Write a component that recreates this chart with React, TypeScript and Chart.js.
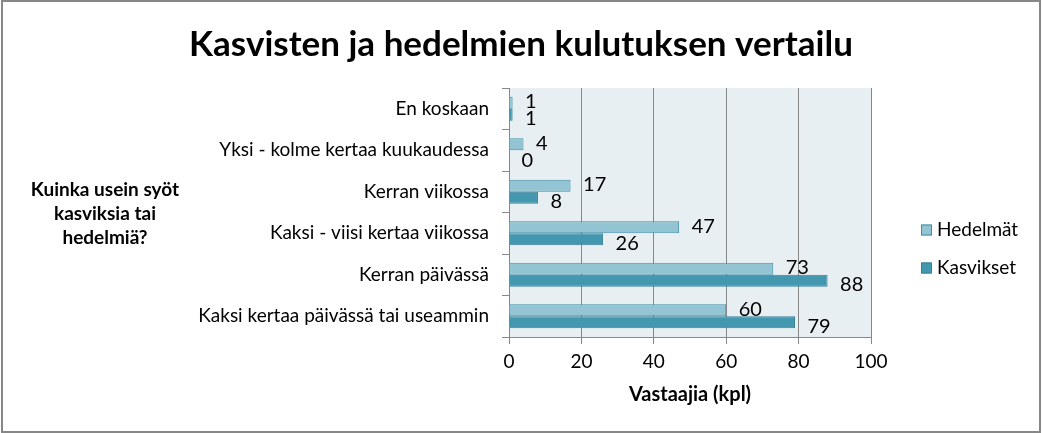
import React, { useEffect, useRef } from 'react';
import { Chart, registerables } from 'chart.js';

Chart.register(...registerables);

const categories = [
  'En koskaan',
  'Yksi - kolme kertaa kuukaudessa',
  'Kerran viikossa',
  'Kaksi - viisi kertaa viikossa',
  'Kerran päivässä',
  'Kaksi kertaa päivässä tai useammin',
];
const hedelmat = [1, 4, 17, 47, 73, 60];
const kasvikset = [1, 0, 8, 26, 88, 79];
const seriesNames = ['Hedelmät', 'Kasvikset'];
const xMin = 0;
const xMax = 100;
const xStep = 20;
const chartTitle = 'Kasvisten ja hedelmien kulutuksen vertailu';
const yTitleLines = ['Kuinka usein syöt', 'kasviksia tai', 'hedelmiä?'];
const xTitle = 'Vastaajia (kpl)';

const FONT = 'Lato, "Open Sans", sans-serif';
const fills = ['#93C4D4', '#4398AF'];
const borders = ['#3E8FA5', '#357F93'];
const GRID = '#878787';

const decorPlugin = {
  id: 'decor',
  beforeDraw(chart: any) {
    const { ctx, chartArea: a, width, height } = chart;
    ctx.save();
    ctx.fillStyle = '#ffffff';
    ctx.fillRect(0, 0, width, height);
    ctx.fillStyle = '#E8EFF3';
    ctx.fillRect(a.left, a.top, a.right - a.left, a.bottom - a.top);
    ctx.restore();
  },
  afterDatasetsDraw(chart: any) {
    const { ctx } = chart;
    ctx.save();
    ctx.font = `20px ${FONT}`;
    ctx.fillStyle = '#000000';
    ctx.textAlign = 'left';
    ctx.textBaseline = 'middle';
    chart.data.datasets.forEach((ds: any, di: number) => {
      const meta = chart.getDatasetMeta(di);
      meta.data.forEach((el: any, i: number) => {
        const dy = di === 0 ? -1 : 4;
        ctx.fillText(String(ds.data[i]), el.x + 12.5, el.y + dy);
      });
    });
    ctx.restore();
  },
  afterDraw(chart: any) {
    const { ctx, chartArea: a, width } = chart;
    ctx.save();
    ctx.fillStyle = '#000000';
    ctx.textAlign = 'center';
    ctx.textBaseline = 'middle';
    ctx.font = `bold 35px ${FONT}`;
    ctx.fillText(chartTitle, width / 2, 45);
    ctx.font = `bold 19px ${FONT}`;
    yTitleLines.forEach((line, i) => {
      ctx.fillText(line, 105, 190 + i * 24);
    });
    ctx.font = `bold 20px ${FONT}`;
    ctx.fillText(xTitle, (a.left + a.right) / 2, 395);
    ctx.textAlign = 'left';
    ctx.font = `19px ${FONT}`;
    seriesNames.forEach((name, i) => {
      const cy = 230 + i * 38;
      ctx.fillStyle = fills[i];
      ctx.fillRect(921, cy - 5.5, 10, 11);
      ctx.strokeStyle = borders[i];
      ctx.lineWidth = 1;
      ctx.strokeRect(921.5, cy - 5, 10, 10);
      ctx.fillStyle = '#000000';
      ctx.fillText(name, 937, cy);
    });
    ctx.strokeStyle = '#878787';
    ctx.lineWidth = 2;
    ctx.strokeRect(2, 1, 1038, 431);
    ctx.restore();
  },
};

export default function App() {
  const ref = useRef<HTMLCanvasElement | null>(null);
  useEffect(() => {
    document.body.style.margin = '0';
    document.body.style.overflow = 'hidden';
    const chart = new Chart(ref.current as HTMLCanvasElement, {
      type: 'bar',
      data: {
        labels: categories,
        datasets: [
          {
            label: seriesNames[0],
            data: hedelmat,
            backgroundColor: fills[0],
            borderColor: borders[0],
            borderWidth: 1,
            categoryPercentage: 0.58,
            barPercentage: 1,
          },
          {
            label: seriesNames[1],
            data: kasvikset,
            backgroundColor: fills[1],
            borderColor: borders[1],
            borderWidth: 1,
            categoryPercentage: 0.58,
            barPercentage: 1,
          },
        ],
      },
      options: {
        indexAxis: 'y',
        animation: false,
        responsive: true,
        maintainAspectRatio: false,
        layout: { padding: { top: 88, right: 171, bottom: 0, left: 0 } },
        plugins: {
          legend: { display: false },
          title: { display: false },
          tooltip: { enabled: false },
        },
        scales: {
          x: {
            type: 'linear',
            min: xMin,
            max: xMax,
            ticks: {
              stepSize: xStep,
              color: '#000000',
              font: { family: FONT, size: 19 },
              padding: 6,
            },
            grid: { color: GRID, tickLength: 7, drawTicks: true },
            border: { display: true, color: GRID },
            afterFit(scale: any) {
              scale.height = 96;
            },
          },
          y: {
            type: 'category',
            offset: true,
            ticks: {
              color: '#000000',
              font: { family: FONT, size: 19 },
              padding: 13,
              autoSkip: false,
            },
            grid: {
              offset: true,
              drawOnChartArea: false,
              drawTicks: true,
              tickLength: 7,
              color: GRID,
            },
            border: { display: true, color: GRID },
            afterFit(scale: any) {
              scale.width = 509;
            },
          },
        },
      } as any,
      plugins: [decorPlugin],
    });
    return () => chart.destroy();
  }, []);
  return (
    <div style={{ position: 'relative', width: 1042, height: 433 }}>
      <canvas ref={ref} />
    </div>
  );
}
